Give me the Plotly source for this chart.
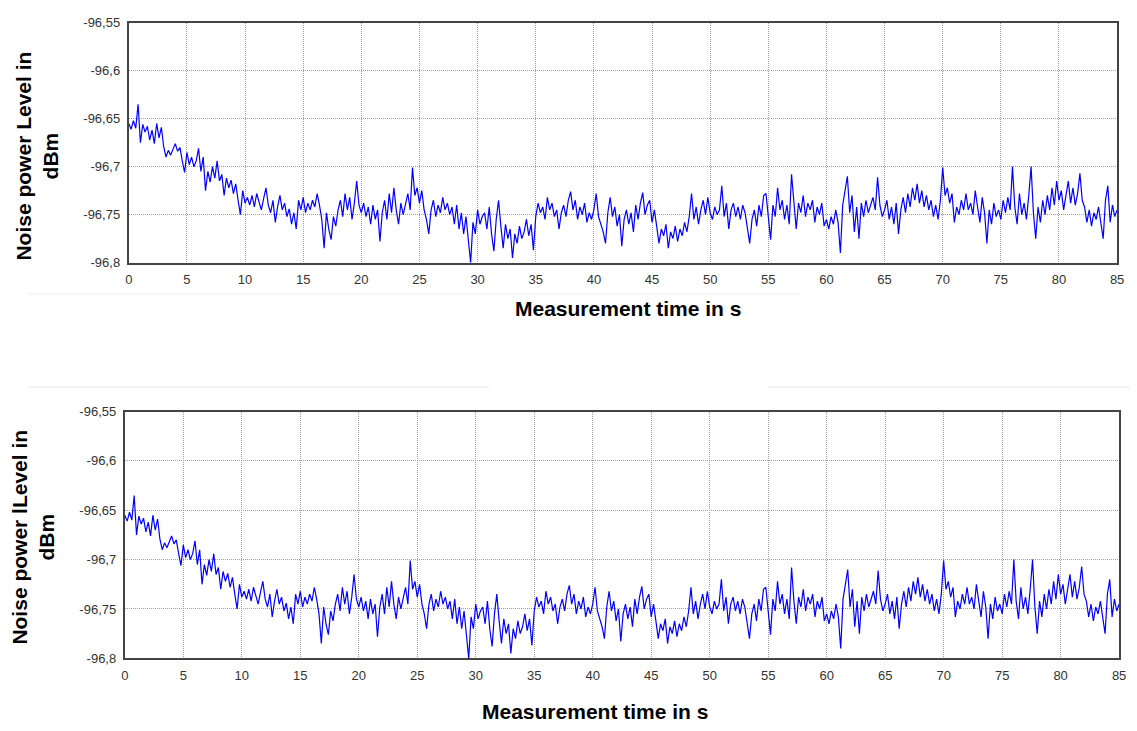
import plotly.graph_objects as go

# Noise power level readings (dBm), sampled every 0.2 s, grouped in 5 s blocks
seg_00_05 = [-96.655, -96.661, -96.652, -96.660, -96.635, -96.675, -96.656, -96.664, -96.658, -96.672,
             -96.662, -96.676, -96.655, -96.670, -96.659, -96.679, -96.690, -96.683, -96.688, -96.681,
             -96.676, -96.684, -96.680, -96.694, -96.706]
seg_05_10 = [-96.685, -96.698, -96.690, -96.700, -96.694, -96.681, -96.705, -96.690, -96.725, -96.705,
             -96.716, -96.700, -96.712, -96.694, -96.715, -96.708, -96.730, -96.712, -96.722, -96.714,
             -96.728, -96.718, -96.735, -96.750, -96.725]
seg_10_15 = [-96.738, -96.732, -96.740, -96.730, -96.742, -96.728, -96.738, -96.745, -96.733, -96.722,
             -96.740, -96.748, -96.735, -96.758, -96.742, -96.730, -96.745, -96.738, -96.752, -96.744,
             -96.760, -96.748, -96.765, -96.735, -96.745]
seg_15_20 = [-96.732, -96.748, -96.738, -96.745, -96.735, -96.742, -96.728, -96.740, -96.755, -96.785,
             -96.748, -96.765, -96.776, -96.752, -96.762, -96.745, -96.735, -96.752, -96.728, -96.745,
             -96.732, -96.755, -96.738, -96.715, -96.740]
seg_20_25 = [-96.748, -96.738, -96.752, -96.742, -96.760, -96.740, -96.755, -96.745, -96.778, -96.748,
             -96.735, -96.755, -96.728, -96.748, -96.722, -96.745, -96.760, -96.738, -96.750, -96.740,
             -96.728, -96.745, -96.701, -96.730, -96.722]
seg_25_30 = [-96.738, -96.725, -96.745, -96.755, -96.770, -96.745, -96.735, -96.752, -96.740, -96.748,
             -96.732, -96.745, -96.738, -96.750, -96.742, -96.760, -96.740, -96.765, -96.748, -96.770,
             -96.752, -96.775, -96.800, -96.758, -96.770]
seg_30_35 = [-96.745, -96.760, -96.752, -96.748, -96.765, -96.742, -96.770, -96.788, -96.755, -96.735,
             -96.762, -96.785, -96.760, -96.775, -96.765, -96.795, -96.770, -96.780, -96.762, -96.775,
             -96.768, -96.755, -96.772, -96.760, -96.787]
seg_35_40 = [-96.752, -96.738, -96.748, -96.742, -96.755, -96.732, -96.745, -96.738, -96.752, -96.745,
             -96.765, -96.748, -96.740, -96.752, -96.735, -96.726, -96.745, -96.735, -96.755, -96.742,
             -96.750, -96.738, -96.758, -96.748, -96.755]
seg_40_45 = [-96.745, -96.728, -96.752, -96.760, -96.768, -96.780, -96.748, -96.732, -96.752, -96.742,
             -96.762, -96.750, -96.783, -96.755, -96.745, -96.760, -96.748, -96.768, -96.740, -96.755,
             -96.738, -96.727, -96.750, -96.740, -96.735]
seg_45_50 = [-96.758, -96.745, -96.762, -96.780, -96.765, -96.772, -96.760, -96.785, -96.768, -96.775,
             -96.762, -96.778, -96.765, -96.772, -96.758, -96.768, -96.752, -96.728, -96.755, -96.742,
             -96.760, -96.745, -96.735, -96.750, -96.732]
seg_50_55 = [-96.748, -96.755, -96.742, -96.750, -96.745, -96.720, -96.752, -96.738, -96.765, -96.745,
             -96.738, -96.752, -96.742, -96.755, -96.740, -96.748, -96.765, -96.780, -96.755, -96.745,
             -96.762, -96.740, -96.752, -96.730, -96.728]
seg_55_60 = [-96.750, -96.776, -96.740, -96.752, -96.722, -96.745, -96.735, -96.755, -96.740, -96.760,
             -96.708, -96.742, -96.765, -96.738, -96.748, -96.730, -96.752, -96.738, -96.745, -96.735,
             -96.758, -96.742, -96.750, -96.738, -96.762]
seg_60_65 = [-96.755, -96.765, -96.752, -96.760, -96.745, -96.758, -96.790, -96.740, -96.725, -96.710,
             -96.748, -96.730, -96.768, -96.742, -96.775, -96.738, -96.752, -96.735, -96.748, -96.740,
             -96.732, -96.745, -96.711, -96.740, -96.752]
seg_65_70 = [-96.745, -96.735, -96.755, -96.742, -96.760, -96.738, -96.770, -96.745, -96.732, -96.748,
             -96.728, -96.742, -96.722, -96.735, -96.718, -96.738, -96.725, -96.742, -96.730, -96.745,
             -96.735, -96.752, -96.740, -96.755, -96.735]
seg_70_75 = [-96.701, -96.730, -96.722, -96.738, -96.728, -96.758, -96.742, -96.750, -96.735, -96.745,
             -96.728, -96.745, -96.738, -96.750, -96.725, -96.742, -96.758, -96.732, -96.748, -96.780,
             -96.745, -96.760, -96.738, -96.752, -96.745]
seg_75_80 = [-96.755, -96.735, -96.748, -96.732, -96.745, -96.700, -96.742, -96.760, -96.728, -96.750,
             -96.738, -96.755, -96.730, -96.700, -96.748, -96.775, -96.742, -96.758, -96.735, -96.750,
             -96.730, -96.745, -96.722, -96.740, -96.715]
seg_80_85 = [-96.735, -96.725, -96.745, -96.730, -96.715, -96.738, -96.722, -96.740, -96.728, -96.707,
             -96.735, -96.742, -96.758, -96.745, -96.762, -96.748, -96.755, -96.742, -96.758, -96.775,
             -96.735, -96.720, -96.758, -96.740, -96.752, -96.745]

noise_level = (seg_00_05 + seg_05_10 + seg_10_15 + seg_15_20 + seg_20_25 + seg_25_30 +
               seg_30_35 + seg_35_40 + seg_40_45 + seg_45_50 + seg_50_55 + seg_55_60 +
               seg_60_65 + seg_65_70 + seg_70_75 + seg_75_80 + seg_80_85)
sample_interval_s = 0.2
time_s = [round(i * sample_interval_s, 1) for i in range(len(noise_level))]

x_ticks = [0, 5, 10, 15, 20, 25, 30, 35, 40, 45, 50, 55, 60, 65, 70, 75, 80, 85]
y_ticks = [-96.8, -96.75, -96.7, -96.65, -96.6, -96.55]
y_tick_text = ["-96,8", "-96,75", "-96,7", "-96,65", "-96,6", "-96,55"]

x_title = "Measurement time in s"
y_title_top = "Noise power Level in"
y_title_bottom = "Noise power lLevel in"
y_unit = "dBm"

W, H = 1137, 731
FONT = "Liberation Sans, Arial, sans-serif"

fig = go.Figure()
fig.add_trace(go.Scatter(x=time_s, y=noise_level, mode="lines",
                         line=dict(color="#0000ff", width=1.2), xaxis="x", yaxis="y",
                         showlegend=False))
fig.add_trace(go.Scatter(x=time_s, y=noise_level, mode="lines",
                         line=dict(color="#0000ff", width=1.2), xaxis="x2", yaxis="y2",
                         showlegend=False))

GRID = dict(showgrid=True, gridcolor="#a0a0a0", griddash="1px,1px", gridwidth=1,
            zeroline=False, showline=True, mirror=True, linecolor="#444444", linewidth=2,
            ticks="", tickfont=dict(family=FONT, size=13, color="#333333"),
            ticklabelstandoff=4)

def xax(l, r, anchor):
    return dict(domain=[l / W, r / W], range=[0, 85], anchor=anchor,
                tickvals=x_ticks, **GRID)

def yax(top, bottom, anchor):
    return dict(domain=[1 - bottom / H, 1 - top / H], range=[-96.8, -96.55], anchor=anchor,
                tickvals=y_ticks, ticktext=y_tick_text, **GRID)

fig.update_layout(
    width=W, height=H, margin=dict(l=0, r=0, t=0, b=0),
    paper_bgcolor="white", plot_bgcolor="white",
    xaxis=xax(126, 1124, "y"), yaxis=yax(16, 261, "x"),
    xaxis2=xax(122, 1126, "y2"), yaxis2=yax(413, 665, "x2"),
)

def ann(text, x, y, angle=0):
    fig.add_annotation(text=text, x=x / W, y=1 - y / H, xref="paper", yref="paper",
                       showarrow=False, textangle=angle, xanchor="center", yanchor="middle",
                       font=dict(family=FONT, size=21, color="black"))

ann("<b>" + x_title + "</b>", 630, 308)
ann("<b>" + x_title + "</b>", 597, 719)
ann("<b>" + y_title_top + "</b><br><b>" + y_unit + "</b>", 33, 152, -90)
ann("<b>" + y_title_bottom + "</b><br><b>" + y_unit + "</b>", 29, 541, -90)

# faint separator lines from the original page
for yy, x0, x1 in [(293, 25, 805), (388, 25, 490), (388, 770, 1137)]:
    fig.add_shape(type="line", xref="paper", yref="paper", x0=x0 / W, x1=x1 / W,
                  y0=1 - yy / H, y1=1 - yy / H, line=dict(color="#ececec", width=1))

fig.write_html("out.html")
